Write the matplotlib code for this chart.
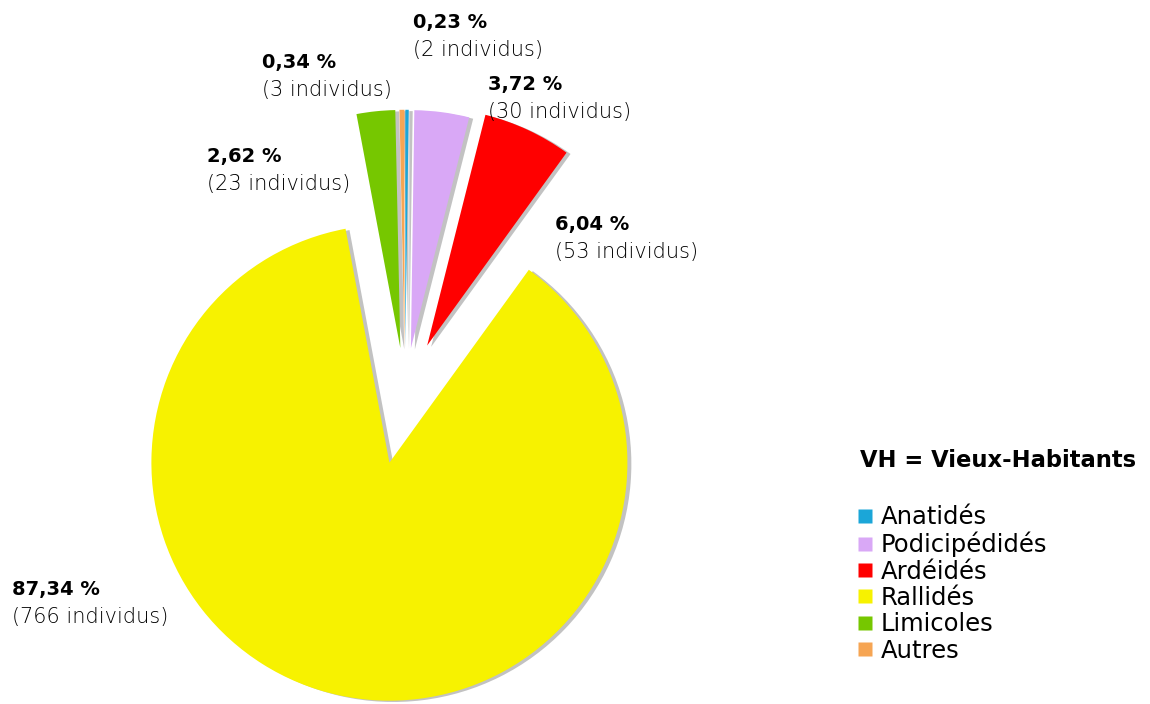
import numpy as np
import matplotlib
matplotlib.use('Agg')
import matplotlib.pyplot as plt
from matplotlib.lines import Line2D


familles = ['Anatidés', 'Podicipédidés', 'Ardéidés', 'Rallidés', 'Limicoles', 'Autres']
pourcentages = [0.23, 3.72, 6.04, 87.34, 2.62, 0.34]
individus = [2, 30, 53, 766, 23, 3]
couleurs = ['#1ba6d8', '#d9a8f6', '#ff0000', '#f7f200', '#76c700', '#f6a553']
titre_legende = 'VH = Vieux-Habitants'


W, H = 1150, 704
R = 238.0                 # rayon du camembert en pixels
cx, cy = 405, 393         # centre (pixels, depuis le haut)

fig = plt.figure(figsize = (W / 100, H / 100), dpi = 100)
ax = fig.add_axes([0, 0, 1, 1])

ax.pie(pourcentages, colors = couleurs, startangle = 90, counterclock = False,
       explode = [0.19, 0.19, 0.22, 0.30, 0.19, 0.19], radius = 1,
       wedgeprops = dict(linewidth = 0),
       shadow = dict(ox = 0.012, oy = -0.004, facecolor = '#9a9a9a',
                     edgecolor = 'none', alpha = 0.6))

ax.set_xlim(-cx / R, (W - cx) / R)
ax.set_ylim(-(H - cy) / R, cy / R)
ax.set_aspect('equal')
ax.set_axis_off()


# étiquettes : (x, ligne de base) en pixels
pos_etiquettes = [(413, 28), (488, 90), (555, 230), (12, 595), (207, 162), (262, 68)]

for (x, yb), p, n in zip(pos_etiquettes, pourcentages, individus):
    txt_p = f'{p:.2f} %'.replace('.', ',')
    fig.text(x / W, 1 - yb / H, txt_p, fontsize = 14, fontweight = 'bold',
             family = 'DejaVu Sans', va = 'baseline', ha = 'left')
    fig.text(x / W, 1 - (yb + 28) / H, f'({n} individus)', fontsize = 15,
             fontweight = 'light', family = 'DejaVu Sans',
             color = 'black', va = 'baseline', ha = 'left')


# légende
fig.text(860 / W, 1 - 467 / H, titre_legende, fontsize = 16.3, fontweight = 'bold',
         family = 'DejaVu Sans', va = 'baseline', ha = 'left')

handles = [Line2D([0], [0], marker = 's', linestyle = 'none', markersize = 9.5,
                  markerfacecolor = c, markeredgecolor = 'none', label = f)
           for f, c in zip(familles, couleurs)]
fig.legend(handles = handles, loc = 'center left', bbox_to_anchor = (858 / W, 1 - 584 / H),
           frameon = False, handlelength = 0.6, handletextpad = 0.32,
           labelspacing = 0.1, borderpad = 0, borderaxespad = 0,
           prop = dict(family = 'DejaVu Sans', size = 17.5))

fig.savefig('out.png', dpi = 100)
